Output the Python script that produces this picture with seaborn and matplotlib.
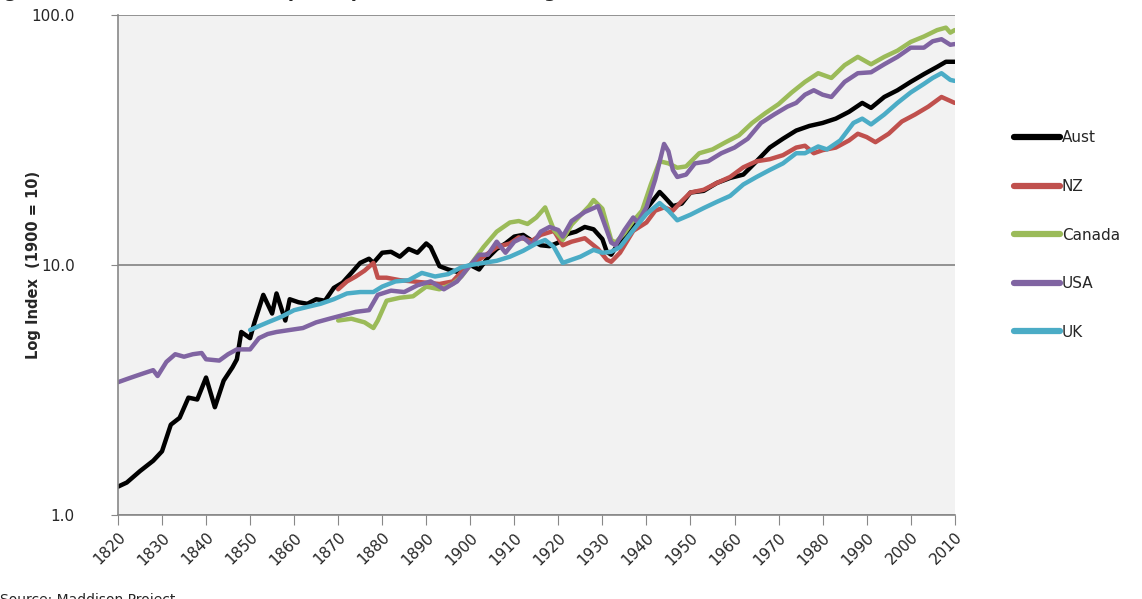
import pandas as pd
import numpy as np
import matplotlib.pyplot as plt
import matplotlib.ticker as mticker
import seaborn as sns

# -------------------------------
# Data (index, 1900 = 10)
# -------------------------------
aust_years = [1820, 1822, 1825, 1828, 1830, 1832, 1834, 1836, 1838, 1840, 1842, 1844,
              1846, 1847, 1848, 1850, 1851, 1853, 1855, 1856, 1858, 1859, 1861, 1863,
              1865, 1867, 1869, 1871, 1873, 1875, 1877, 1878, 1880, 1882, 1884, 1886,
              1888, 1890, 1891, 1893, 1895, 1897, 1900, 1902, 1904, 1906, 1908, 1910,
              1912, 1914, 1916, 1918, 1920, 1922, 1924, 1926, 1928, 1930, 1931, 1932,
              1934, 1936, 1938, 1940, 1942, 1943, 1944, 1946, 1948, 1950, 1953, 1956,
              1959, 1962, 1965, 1968, 1971, 1974, 1977, 1980, 1983, 1986, 1989, 1991,
              1994, 1997, 2000, 2003, 2006, 2008, 2010]
aust_vals = [1.30, 1.35, 1.50, 1.65, 1.80, 2.30, 2.45, 2.95, 2.90, 3.55, 2.70, 3.45,
             3.90, 4.20, 5.40, 5.10, 5.90, 7.60, 6.40, 7.70, 6.00, 7.30, 7.10, 7.00,
             7.30, 7.20, 8.10, 8.50, 9.30, 10.2, 10.6, 10.2, 11.2, 11.3, 10.8, 11.6,
             11.2, 12.2, 11.8, 9.90, 9.60, 9.40, 10.0, 9.60, 10.7, 11.6, 12.2, 13.0,
             13.2, 12.5, 12.0, 11.9, 12.3, 13.3, 13.6, 14.2, 13.9, 12.7, 11.3, 11.0,
             12.5, 13.6, 15.2, 16.8, 18.6, 19.6, 18.8, 17.2, 17.6, 19.5, 19.8, 21.3,
             22.3, 23.0, 26.0, 29.5, 32.0, 34.5, 36.0, 37.0, 38.5, 41.0, 44.5, 42.5,
             47.0, 50.0, 54.0, 58.0, 62.0, 65.0, 65.0]

nz_years = [1870, 1872, 1874, 1876, 1878, 1879, 1881, 1884, 1887, 1890, 1893, 1896,
            1898, 1900, 1903, 1906, 1909, 1911, 1914, 1916, 1919, 1921, 1923, 1926,
            1929, 1931, 1932, 1934, 1937, 1940, 1942, 1944, 1946, 1948, 1950, 1953,
            1956, 1959, 1962, 1965, 1968, 1971, 1974, 1976, 1978, 1980, 1983, 1986,
            1988, 1990, 1992, 1995, 1998, 2001, 2004, 2007, 2010]
nz_vals = [8.0, 8.6, 9.0, 9.5, 10.2, 8.9, 8.9, 8.7, 8.6, 8.5, 8.4, 8.6,
           9.4, 10.0, 10.8, 11.8, 12.2, 12.9, 12.5, 13.2, 13.7, 12.0, 12.4, 12.8,
           11.6, 10.5, 10.3, 11.2, 13.7, 14.8, 16.5, 17.0, 16.5, 18.0, 19.5, 20.0,
           21.3, 22.5, 24.6, 26.0, 26.5, 27.5, 29.5, 30.0, 28.0, 28.8, 29.5, 31.5,
           33.5, 32.5, 31.0, 33.5, 37.5, 40.0, 43.0, 47.0, 44.5]

canada_years = [1870, 1873, 1876, 1878, 1879, 1881, 1884, 1887, 1890, 1893, 1896, 1898,
                1900, 1903, 1906, 1909, 1911, 1913, 1915, 1917, 1919, 1921, 1923, 1925,
                1927, 1928, 1930, 1932, 1933, 1935, 1937, 1939, 1941, 1943, 1945, 1947,
                1949, 1952, 1955, 1958, 1961, 1964, 1967, 1970, 1973, 1976, 1979, 1982,
                1985, 1988, 1991, 1994, 1997, 2000, 2003, 2006, 2008, 2009, 2010]
canada_vals = [6.0, 6.1, 5.9, 5.6, 6.0, 7.2, 7.4, 7.5, 8.2, 8.0, 8.4, 9.0,
               10.0, 11.8, 13.6, 14.8, 15.0, 14.6, 15.5, 17.0, 13.8, 12.6, 14.5, 15.8,
               17.2, 18.2, 16.8, 12.6, 12.3, 13.4, 15.0, 16.5, 21.0, 26.0, 25.5, 24.5,
               24.8, 28.0, 29.0, 31.0, 33.0, 37.0, 40.5, 44.0, 49.0, 54.0, 58.5, 56.0,
               63.0, 68.0, 63.5, 68.0, 72.0, 78.0, 82.0, 87.0, 89.0, 85.0, 87.0]

usa_years = [1820, 1822, 1824, 1826, 1828, 1829, 1831, 1833, 1835, 1837, 1839, 1840,
             1843, 1845, 1847, 1850, 1852, 1854, 1856, 1859, 1862, 1865, 1868, 1871,
             1874, 1877, 1879, 1882, 1885, 1888, 1891, 1894, 1897, 1900, 1902, 1904,
             1906, 1908, 1910, 1912, 1914, 1916, 1918, 1920, 1921, 1923, 1926, 1929,
             1930, 1932, 1933, 1935, 1937, 1938, 1940, 1942, 1944, 1945, 1946, 1947,
             1949, 1951, 1954, 1957, 1960, 1963, 1966, 1969, 1972, 1974, 1976, 1978,
             1980, 1982, 1985, 1988, 1991, 1994, 1997, 2000, 2003, 2005, 2007, 2009,
             2010]
usa_vals = [3.4, 3.5, 3.6, 3.7, 3.8, 3.6, 4.1, 4.4, 4.3, 4.4, 4.45, 4.2,
            4.15, 4.4, 4.6, 4.6, 5.1, 5.3, 5.4, 5.5, 5.6, 5.9, 6.1, 6.3,
            6.5, 6.6, 7.6, 7.9, 7.8, 8.3, 8.6, 8.0, 8.6, 10.0, 11.0, 11.0,
            12.4, 11.2, 12.4, 12.9, 12.0, 13.6, 14.2, 13.8, 13.0, 15.0, 16.3, 17.2,
            15.4, 12.3, 12.0, 13.8, 15.5, 14.8, 17.0, 22.0, 30.5, 28.5, 24.0, 22.5,
            23.0, 25.5, 26.0, 28.0, 29.5, 32.0, 37.0, 40.0, 43.0, 44.5, 48.0, 50.0,
            48.0, 47.0, 54.0, 58.5, 59.0, 63.5, 68.0, 74.0, 74.0, 78.5, 80.0, 76.0,
            76.5]

uk_years = [1850, 1852, 1854, 1857, 1860, 1863, 1866, 1869, 1872, 1875, 1878, 1880,
            1883, 1886, 1889, 1892, 1895, 1898, 1900, 1903, 1906, 1909, 1912, 1915,
            1917, 1919, 1921, 1923, 1925, 1928, 1930, 1932, 1934, 1937, 1940, 1943,
            1945, 1947, 1950, 1953, 1956, 1959, 1962, 1965, 1968, 1971, 1974, 1976,
            1979, 1981, 1984, 1987, 1989, 1991, 1994, 1997, 2000, 2003, 2005, 2007,
            2009, 2010]
uk_vals = [5.5, 5.7, 5.9, 6.2, 6.6, 6.8, 7.0, 7.3, 7.7, 7.8, 7.8, 8.2,
           8.6, 8.7, 9.3, 9.0, 9.2, 9.8, 10.0, 10.2, 10.4, 10.8, 11.4, 12.2,
           12.6, 11.8, 10.2, 10.5, 10.8, 11.5, 11.2, 11.3, 11.8, 13.8, 16.0, 17.7,
           16.5, 15.1, 15.9, 16.9, 17.9, 18.9, 21.0, 22.5, 24.0, 25.5, 28.0, 28.0,
           29.8, 29.0, 31.5, 37.0, 38.5, 36.5, 40.0, 44.5, 49.0, 53.0, 56.0, 58.5,
           55.0, 54.5]

countries = ["Aust", "NZ", "Canada", "USA", "UK"]
colors = {"Aust": "#000000", "NZ": "#c0504d", "Canada": "#9bbb59",
          "USA": "#8064a2", "UK": "#4bacc6"}
x_ticks = list(range(1820, 2011, 10))
y_ticks = [1, 10, 100]

series = {
    "Aust": (aust_years, aust_vals),
    "NZ": (nz_years, nz_vals),
    "Canada": (canada_years, canada_vals),
    "USA": (usa_years, usa_vals),
    "UK": (uk_years, uk_vals),
}
df = pd.concat(
    [pd.DataFrame({"Year": y, "Index": v, "Country": c}) for c, (y, v) in series.items()],
    ignore_index=True)

# -------------------------------
# Plot
# -------------------------------
sns.set_style("white", {"axes.facecolor": "#f2f2f2"})
plt.rcParams["font.family"] = ["DejaVu Sans"]

fig = plt.figure(figsize=(11.42, 5.99), dpi=100)
ax = fig.add_axes([0.1033, 0.140, 0.7327, 0.835])

sns.lineplot(data=df, x="Year", y="Index", hue="Country", hue_order=countries,
             palette=colors, estimator=None, linewidth=3.2, ax=ax)

ax.set_yscale("log")
ax.set_ylim(1, 100)
ax.set_xlim(1820, 2010)
ax.set_yticks(y_ticks)
ax.yaxis.set_major_formatter(mticker.FuncFormatter(lambda v, p: f"{v:.1f}"))
ax.yaxis.set_minor_locator(mticker.NullLocator())
ax.set_xticks(x_ticks)
ax.set_xticklabels([str(t) for t in x_ticks], rotation=45, ha="right",
                   rotation_mode="anchor", fontsize=11)
ax.tick_params(axis="y", labelsize=11, length=5, color="#888888", direction="out",
               left=True, pad=26)
ax.tick_params(axis="x", length=7, color="#888888", direction="out", bottom=True)

ax.grid(axis="y", which="major", color="#8a8a8a", linewidth=1.3)
ax.set_axisbelow(True)
for side in ["top", "right"]:
    ax.spines[side].set_visible(False)
for side in ["left", "bottom"]:
    ax.spines[side].set_color("#888888")
    ax.spines[side].set_linewidth(1.2)

ax.set_xlabel("")
ax.set_ylabel("Log Index  (1900 = 10)", fontsize=10.5, fontweight="bold")
ax.yaxis.set_label_coords(-0.092, 0.5)

handles, labels = ax.get_legend_handles_labels()
leg = ax.legend(handles, labels, loc="center left", bbox_to_anchor=(1.055, 0.56),
                frameon=False, fontsize=11, handlelength=3.0, handletextpad=0.1,
                labelspacing=2.2)
for line in leg.get_lines():
    line.set_linewidth(4.5)

# title and source are cropped at the image edges in the reference
fig.text(-0.012, 1 + 3 / 599, "Figure 2: Australian real GDP per capita, 1820-2010 (log scale)",
         fontsize=13, fontweight="bold", va="baseline", ha="left")
fig.text(0.0, 1 - 593 / 599, "Source: Maddison Project", fontsize=10, va="top", ha="left")

fig.savefig("out.png", dpi=100)
